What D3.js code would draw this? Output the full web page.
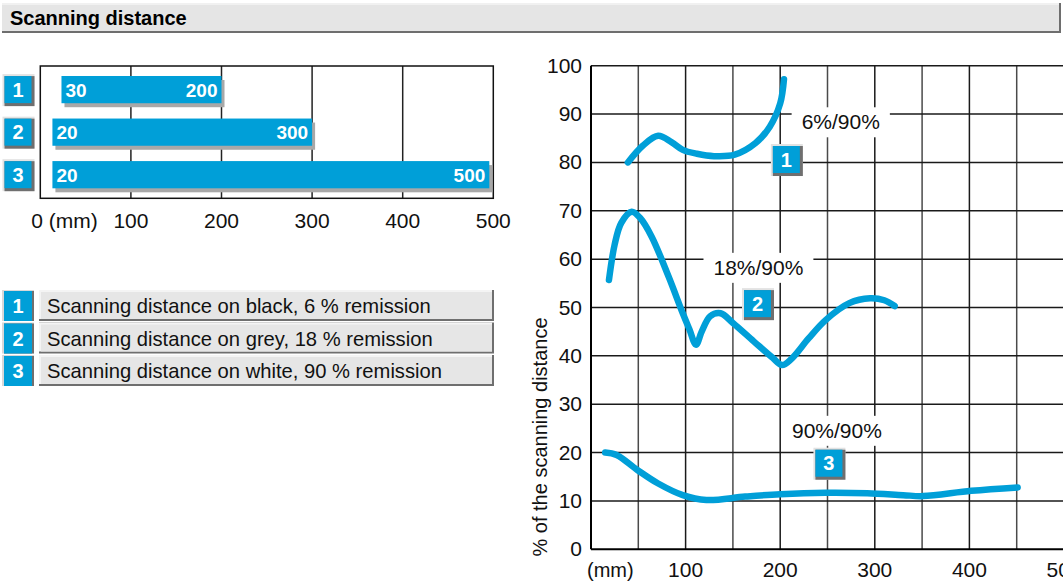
<!DOCTYPE html>
<html>
<head>
<meta charset="utf-8">
<script src="https://cdn.jsdelivr.net/npm/d3@7"></script>
<style>
  body { margin: 0; background: #fff; }
  svg { display: block; font-family: "Liberation Sans", Arial, sans-serif; }
</style>
</head>
<body>
<script>
// bar chart: scanning range per remission class (mm)
var barIds = [1, 2, 3];
var barFrom = [30, 20, 20];
var barTo = [200, 300, 500];
var barTicks = [0, 100, 200, 300, 400, 500];

var legendText = [
  "Scanning distance on black, 6 % remission",
  "Scanning distance on grey, 18 % remission",
  "Scanning distance on white, 90 % remission"
];

// curves: % of the scanning distance vs distance (mm)
var curve1 = [[39,80],[55,83.5],[71,85.5],[85,84.2],[97,82.6],[112,81.8],[130,81.3],[152,81.6],[174,84],[189,87.4],[200,92.2],[204,97.2]];
var curve2 = [[19,55.7],[25,63],[32,67.5],[43,69.8],[52,68.5],[64,64.7],[82,56.4],[97,48.8],[104,45.5],[111,42.3],[117,45],[126,48.2],[137,48.8],[150,46.8],[172,43],[192,39.6],[202,38.1],[212,39.4],[230,43.6],[248,47.4],[273,50.9],[295,51.9],[310,51.5],[321,50.3]];
var curve3 = [[15,20],[27,19.5],[49,16.4],[71,13.6],[97,11.2],[122,10.2],[163,10.9],[200,11.4],[248,11.7],[292,11.6],[330,11.2],[351,11.0],[402,12.1],[451,12.8]];
var curves = [curve1, curve2, curve3];

var xTicks = [100, 200, 300, 400, 500];
var yTicks = [0, 10, 20, 30, 40, 50, 60, 70, 80, 90, 100];

// annotation labels (data coords)
var ratioText = ["6%/90%", "18%/90%", "90%/90%"];
var ratioPos = [[264, 88.3], [177, 58.2], [260, 24.5]];
var badgePos = [[206.5, 80.6], [176, 50.8], [251.5, 17.8]];

var BLUE = "#009fd8";

var svg = d3.select("body").append("svg")
  .attr("width", 1063)
  .attr("height", 583);

// badge helper: blue square with bevel
function badge(g, cx, cy, n, size){
  var h = size / 2;
  g.append("rect").attr("x", cx - h - 2).attr("y", cy - h - 2)
    .attr("width", size + 5).attr("height", size + 5).attr("fill", "#e2e2e2");
  g.append("rect").attr("x", cx - h).attr("y", cy - h)
    .attr("width", size + 3).attr("height", size + 3).attr("fill", "#6f6f6f");
  g.append("rect").attr("x", cx - h).attr("y", cy - h)
    .attr("width", size).attr("height", size).attr("fill", BLUE);
  g.append("text").attr("x", cx).attr("y", cy + 7)
    .attr("text-anchor", "middle")
    .attr("fill", "#fff").attr("font-weight", "bold").attr("font-size", 20)
    .text(n);
}

// title bar
svg.append("rect").attr("x", 2).attr("y", 3).attr("width", 1059).attr("height", 30).attr("fill", "#6e6e6e");
svg.append("rect").attr("x", 2).attr("y", 3).attr("width", 1057).attr("height", 28).attr("fill", "#e5e5e5");
svg.append("rect").attr("x", 2).attr("y", 3).attr("width", 1057).attr("height", 2).attr("fill", "#f1f1f1");
svg.append("text").attr("x", 10).attr("y", 25)
  .attr("font-weight", "bold").attr("font-size", 20).attr("fill", "#000")
  .text("Scanning distance");

// ---------- bar chart ----------
var bx = d3.scaleLinear().domain([0, 500]).range([40.3, 493.3]);
var by = d3.scaleBand().domain(barIds).range([66, 198.3]).paddingInner(0.36).paddingOuter(0.235);
var bars = barIds.map(function(d, i){ return {id: d, from: barFrom[i], to: barTo[i]}; });

var bg = svg.append("g");
bg.selectAll("line.grid").data(barTicks.slice(1, 5)).enter().append("line")
  .attr("x1", function(d){ return bx(d); }).attr("x2", function(d){ return bx(d); })
  .attr("y1", 66).attr("y2", 198.3)
  .attr("stroke", "#222").attr("stroke-width", 1.5);
bg.append("rect").attr("x", bx(0)).attr("y", 66)
  .attr("width", bx(500) - bx(0)).attr("height", 198.3 - 66)
  .attr("fill", "none").attr("stroke", "#111").attr("stroke-width", 1.5);

function barLeft(d){ return bx(d.from) - 6; }
function barRight(d){ return Math.min(bx(d.to), bx(500) - 4); }

bg.selectAll("rect.shadow").data(bars).enter().append("rect")
  .attr("x", function(d){ return barLeft(d) + 3; })
  .attr("y", function(d){ return by(d.id) + 4; })
  .attr("width", function(d){ return barRight(d) - barLeft(d); })
  .attr("height", by.bandwidth())
  .attr("fill", "#a8a8a8");
bg.selectAll("rect.bar").data(bars).enter().append("rect")
  .attr("x", barLeft)
  .attr("y", function(d){ return by(d.id); })
  .attr("width", function(d){ return barRight(d) - barLeft(d); })
  .attr("height", by.bandwidth())
  .attr("fill", BLUE);
bg.selectAll("text.from").data(bars).enter().append("text")
  .attr("x", function(d){ return barLeft(d) + 4; })
  .attr("y", function(d){ return by(d.id) + by.bandwidth() / 2 + 7; })
  .attr("fill", "#fff").attr("font-weight", "bold").attr("font-size", 19)
  .text(function(d){ return d.from; });
bg.selectAll("text.to").data(bars).enter().append("text")
  .attr("x", function(d){ return barRight(d) - 4; })
  .attr("y", function(d){ return by(d.id) + by.bandwidth() / 2 + 7; })
  .attr("text-anchor", "end")
  .attr("fill", "#fff").attr("font-weight", "bold").attr("font-size", 19)
  .text(function(d){ return d.to; });

bars.forEach(function(d){ badge(bg, 18, by(d.id) + by.bandwidth() / 2, d.id, 27); });

bg.selectAll("text.tick").data(barTicks).enter().append("text")
  .attr("x", function(d){ return d === 0 ? bx(0) - 9 : bx(d); })
  .attr("y", 228)
  .attr("text-anchor", function(d){ return d === 0 ? "start" : "middle"; })
  .attr("font-size", 21).attr("fill", "#111")
  .text(function(d){ return d === 0 ? "0 (mm)" : d; });

// ---------- legend ----------
var lg = svg.append("g");
legendText.forEach(function(t, i){
  var y0 = 290 + i * 32.5;
  lg.append("rect").attr("x", 2).attr("y", y0).attr("width", 32).attr("height", 31).attr("fill", "#d8d8d8");
  lg.append("rect").attr("x", 4).attr("y", y0 + 1).attr("width", 30).attr("height", 30).attr("fill", "#6f6f6f");
  lg.append("rect").attr("x", 4).attr("y", y0 + 1).attr("width", 28).attr("height", 30).attr("fill", BLUE);
  lg.append("text").attr("x", 18).attr("y", y0 + 23)
    .attr("text-anchor", "middle").attr("fill", "#fff")
    .attr("font-weight", "bold").attr("font-size", 20).text(i + 1);
  lg.append("rect").attr("x", 39).attr("y", y0).attr("width", 455).attr("height", 31).attr("fill", "#6f6f6f");
  lg.append("rect").attr("x", 39).attr("y", y0).attr("width", 453).attr("height", 29).attr("fill", "#f4f4f4");
  lg.append("rect").attr("x", 41).attr("y", y0 + 2).attr("width", 451).attr("height", 27).attr("fill", "#e6e6e6");
  lg.append("text").attr("x", 47).attr("y", y0 + 23)
    .attr("font-size", 20.2).attr("fill", "#111").text(t);
});

// ---------- line chart ----------
var x = d3.scaleLinear().domain([0, 500]).range([591, 1064]);
var y = d3.scaleLinear().domain([0, 100]).range([549.3, 65.7]);

var lc = svg.append("g");
lc.selectAll("line.v").data(d3.range(50, 501, 50)).enter().append("line")
  .attr("x1", function(d){ return x(d); }).attr("x2", function(d){ return x(d); })
  .attr("y1", y(100)).attr("y2", y(0))
  .attr("stroke", function(d){ return d % 100 === 0 ? "#1a1a1a" : "#4a4a4a"; })
  .attr("stroke-width", 1.5);
lc.selectAll("line.h").data(yTicks.slice(1)).enter().append("line")
  .attr("x1", x(0)).attr("x2", x(500))
  .attr("y1", function(d){ return y(d); }).attr("y2", function(d){ return y(d); })
  .attr("stroke", "#1a1a1a").attr("stroke-width", 1.5);
lc.append("line").attr("x1", x(0)).attr("x2", x(0)).attr("y1", y(100)).attr("y2", y(0))
  .attr("stroke", "#000").attr("stroke-width", 2);
lc.append("line").attr("x1", x(0)).attr("x2", x(500)).attr("y1", y(0)).attr("y2", y(0))
  .attr("stroke", "#000").attr("stroke-width", 2);

lc.selectAll("text.yt").data(yTicks).enter().append("text")
  .attr("x", 582).attr("y", function(d){ return y(d) + 7; })
  .attr("text-anchor", "end").attr("font-size", 21).attr("fill", "#111")
  .text(function(d){ return d; });
lc.append("text").attr("x", 587).attr("y", 577).attr("font-size", 20).attr("fill", "#111").text("(mm)");
lc.selectAll("text.xt").data(xTicks).enter().append("text")
  .attr("x", function(d){ return x(d); }).attr("y", 577)
  .attr("text-anchor", "middle").attr("font-size", 21).attr("fill", "#111")
  .text(function(d){ return d; });
lc.append("text")
  .attr("transform", "translate(547,437) rotate(-90)")
  .attr("text-anchor", "middle").attr("font-size", 20).attr("fill", "#111")
  .text("% of the scanning distance");

var line = d3.line()
  .x(function(d){ return x(d[0]); })
  .y(function(d){ return y(d[1]); })
  .curve(d3.curveCatmullRom.alpha(0.5));
lc.selectAll("path.curve").data(curves).enter().append("path")
  .attr("d", line)
  .attr("fill", "none").attr("stroke", BLUE)
  .attr("stroke-width", 6.5).attr("stroke-linecap", "round").attr("stroke-linejoin", "round");

ratioText.forEach(function(t, i){
  var cx = x(ratioPos[i][0]), cy = y(ratioPos[i][1]);
  var tx = lc.append("text").attr("x", cx).attr("y", cy + 7)
    .attr("text-anchor", "middle").attr("font-size", 21).attr("fill", "#111").text(t);
  var w = tx.node().getComputedTextLength();
  lc.insert("rect", function(){ return tx.node(); })
    .attr("x", cx - w / 2 - 10).attr("y", cy - 15)
    .attr("width", w + 20).attr("height", 30).attr("fill", "#fff");
  badge(lc, x(badgePos[i][0]), y(badgePos[i][1]), i + 1, 27);
});
</script>
</body>
</html>
